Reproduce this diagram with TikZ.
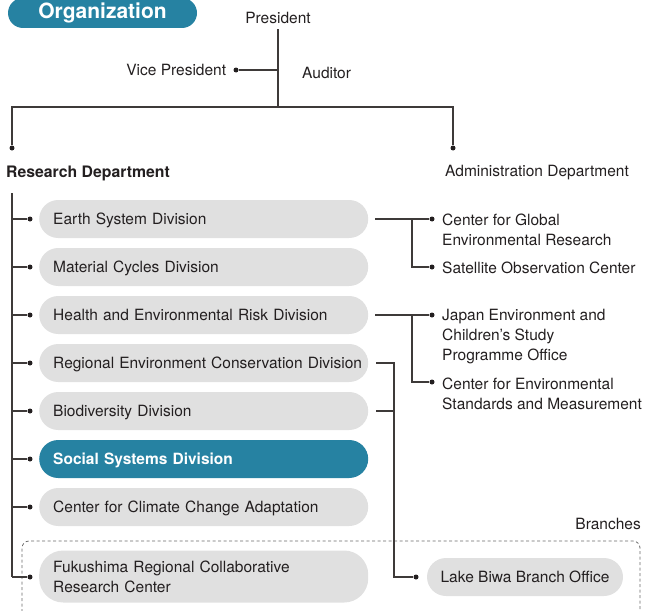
\documentclass[tikz,border=0pt]{standalone}
\usepackage{fontspec}
\setmainfont{TeX Gyre Heros}
\usetikzlibrary{positioning,calc}
\definecolor{teal1}{HTML}{2682A2}
\definecolor{pill}{HTML}{E0E0E0}
\definecolor{ink}{HTML}{231F20}
\definecolor{wire}{HTML}{3E3A39}
\definecolor{muted}{HTML}{6A6A6A}

\begin{document}
\begin{tikzpicture}[x=1pt,y=-1pt,
    every node/.style={font=\fontsize{15.5}{20}\selectfont,text=ink,inner sep=0pt},
    link/.style={draw=wire,line width=1.1pt},
    dot/.style={circle,fill=ink,inner sep=0pt,minimum size=5pt},
    pillbox/.style={fill=pill,rounded corners=19pt,minimum height=38pt,
                 text width=301pt,inner xsep=14pt,align=left,anchor=west},
    unit/.style={pillbox,text depth=0pt},
    hilite/.style={unit,fill=teal1,text=white,font=\fontsize{15.5}{20}\selectfont\bfseries},
    side/.style={anchor=west,align=left}]
  \useasboundingbox (0,0) rectangle (650,610);
  \node[fill=teal1,rounded corners=15pt,minimum width=189pt,minimum height=30pt,
        text=white,font=\fontsize{21}{24}\selectfont\bfseries] (org) at (102.5,13) {Organization};
  \node (pres) at (278,17.5) {President};
  \coordinate (hub) at (278,107);
  \coordinate (vpjoin) at (278,70);
  \node[dot] (vpdot) at (236,70) {};
  \node[left=7pt of vpdot] (vp) {Vice President};
  \node[anchor=west] (aud) at (302,72.5) {Auditor};
  \draw[link] ([yshift=-6pt]pres.south) -- (hub);
  \draw[link] (vpdot) -- (vpjoin);
  \node[dot] (resdot) at (12,148) {};
  \node[dot] (admdot) at (453,148) {};
  \draw[link] (resdot) |- (hub) -| (admdot);
  \node[anchor=west,font=\fontsize{15.8}{20}\selectfont\bfseries] (res) at (6,173) {Research Department};
  \node[anchor=west] (adm) at (445,173) {Administration Department};

  \draw[muted,line width=0.8pt,dash pattern=on 3pt off 2.5pt,rounded corners=7pt]
      (22,612) -- (22,541) -- (640,541) -- (640,612);
  \node[anchor=east] (branches) at (641,523.5) {Branches};

  \foreach \n/\y/\t in {earth/219/Earth System Division,mat/267/Material Cycles Division,
      health/315/Health and Environmental Risk Division,
      regional/363/Regional Environment Conservation Division,
      bio/411/Biodiversity Division,cca/507/Center for Climate Change Adaptation}
    \node[unit] (\n) at (39,\y) {\mbox{\t}};
  \node[hilite] (social) at (39,459) {Social Systems Division};
  \node[pillbox,minimum height=52pt,rounded corners=24pt] (fuku) at (39,576.5)
      {Fukushima Regional Collaborative\\Research Center};

  \coordinate (trunk) at (12,193);
  \foreach \n/\y in {earth/219,mat/267,health/315,regional/363,bio/411,social/459,cca/507,fuku/577}{
    \node[dot] (d-\n) at (30,\y) {};
    \draw[link] (trunk |- d-\n) -- (d-\n);
  }
  \draw[link] (trunk) -- (trunk |- d-fuku);

  \node[dot] (d-cgr) at (432,219) {};
  \node[dot] (d-sat) at (432,267) {};
  \node[dot] (d-jecs) at (432,315) {};
  \node[dot] (d-cesm) at (432,382) {};
  \node[side] (cgr) at (442,229.5) {Center for Global\\Environmental Research};
  \node[side] (sat) at (442,267.5) {Satellite Observation Center};
  \node[side] (jecs) at (442,336.5) {Japan Environment and\\Children's Study\\Programme Office};
  \node[side] (cesm) at (442,393.5) {Center for Environmental\\Standards and Measurement};
  \coordinate (fork1) at (412,219);
  \draw[link] ([xshift=7pt]earth.east) -- (d-cgr);
  \draw[link] (fork1) |- (d-sat);
  \coordinate (fork2) at (412,315);
  \draw[link] ([xshift=7pt]health.east) -- (d-jecs);
  \draw[link] (fork2) |- (d-cesm);

  \node[dot] (d-biwa) at (416,577) {};
  \node[fill=pill,rounded corners=19pt,minimum width=196pt,minimum height=38pt] (biwa)
      at (525,577) {Lake Biwa Branch Office};
  \coordinate (fork3) at (394,363);
  \draw[link] ([xshift=8pt]regional.east) -- (fork3) |- (d-biwa);
  \draw[link] ([xshift=8pt]bio.east) -- (fork3 |- bio.east);
\end{tikzpicture}
\end{document}
